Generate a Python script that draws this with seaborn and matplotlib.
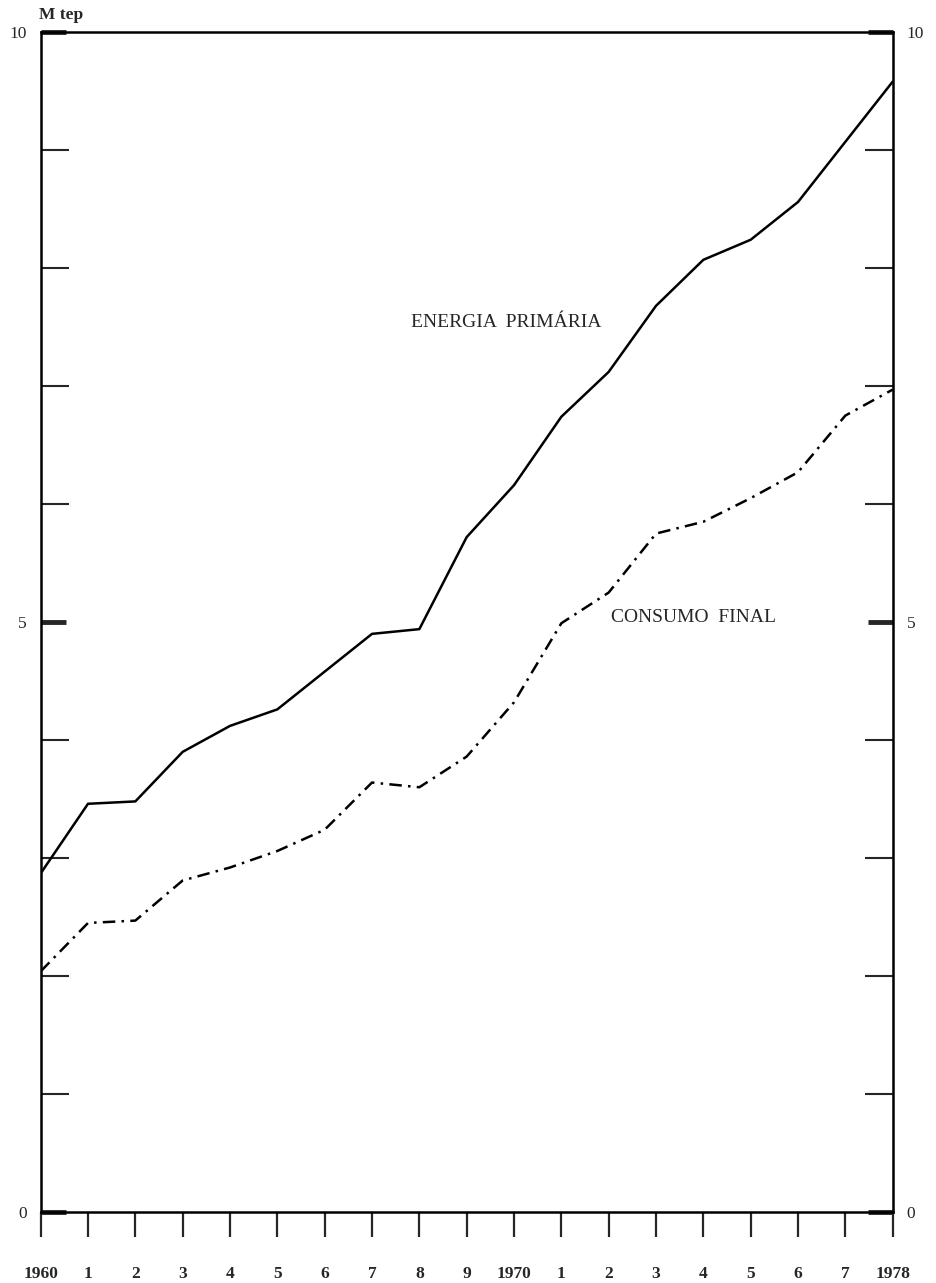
# energia primaria vs consumo final, 1960-1978

import numpy as np
import pandas as pd
import matplotlib
matplotlib.use("Agg")
import matplotlib.pyplot as plt
import matplotlib.ticker as ticker
import seaborn as sns

# data (M tep)

anos = list(range(1960, 1979))
energia_primaria = [2.87, 3.46, 3.48, 3.90, 4.12, 4.26, 4.58, 4.90, 4.94, 5.72,
                    6.16, 6.74, 7.12, 7.68, 8.07, 8.24, 8.56, 9.07, 9.58]
consumo_final = [2.04, 2.45, 2.47, 2.81, 2.92, 3.06, 3.24, 3.64, 3.60, 3.86,
                 4.32, 4.99, 5.25, 5.75, 5.85, 6.05, 6.27, 6.75, 6.97]
x_labels = ["1960", "1", "2", "3", "4", "5", "6", "7", "8", "9",
            "1970", "1", "2", "3", "4", "5", "6", "7", "1978"]

df = pd.DataFrame({"ano": anos, "energia": energia_primaria, "consumo": consumo_final})

sns.set_style("ticks")
plt.rcParams['font.family'] = ['Liberation Serif', 'DejaVu Serif']

# plot

fig = plt.figure(figsize=(9.37, 12.83), dpi=100)
ax = fig.add_axes([0.0434, 0.0553, 0.9093, 0.9197])

sns.lineplot(data=df, x="ano", y="energia", color="black", linewidth=1.8, ax=ax)
sns.lineplot(data=df, x="ano", y="consumo", color="black", linewidth=1.8, ax=ax,
             linestyle=(0, (5, 2.5, 1, 2.5)))

ax.set_xlim(1960, 1978)
ax.set_ylim(0, 10)
ax.set_xlabel("")
ax.set_ylabel("")

for s in ax.spines.values():
    s.set_linewidth(1.8)
    s.set_color("black")

ax.xaxis.set_major_locator(ticker.FixedLocator(anos))
ax.set_xticklabels(x_labels, fontsize=12.5, fontweight="bold")
ax.tick_params(axis="x", direction="out", length=18, width=1.6, pad=21)

ax.yaxis.set_major_locator(ticker.FixedLocator([0, 5, 10]))
ax.yaxis.set_minor_locator(ticker.FixedLocator([1, 2, 3, 4, 6, 7, 8, 9]))
ax.set_yticklabels(["0", "5", "10"], fontsize=12.5)
ax.tick_params(axis="y", which="major", direction="in", length=18, width=3.5,
               left=True, right=True, labelleft=True, labelright=True, pad=10)
ax.tick_params(axis="y", which="minor", direction="in", length=20, width=1.5,
               left=True, right=True)

ax.text(1969.83, 7.54, "ENERGIA  PRIMÁRIA", ha="center", va="center", fontsize=14)
ax.text(1973.8, 5.04, "CONSUMO  FINAL", ha="center", va="center", fontsize=14)

fig.text(39 / 937, 1 - 19 / 1283, "M tep", ha="left", va="baseline",
         fontsize=12.5, fontweight="bold")

fig.savefig("out.png", dpi=100)
